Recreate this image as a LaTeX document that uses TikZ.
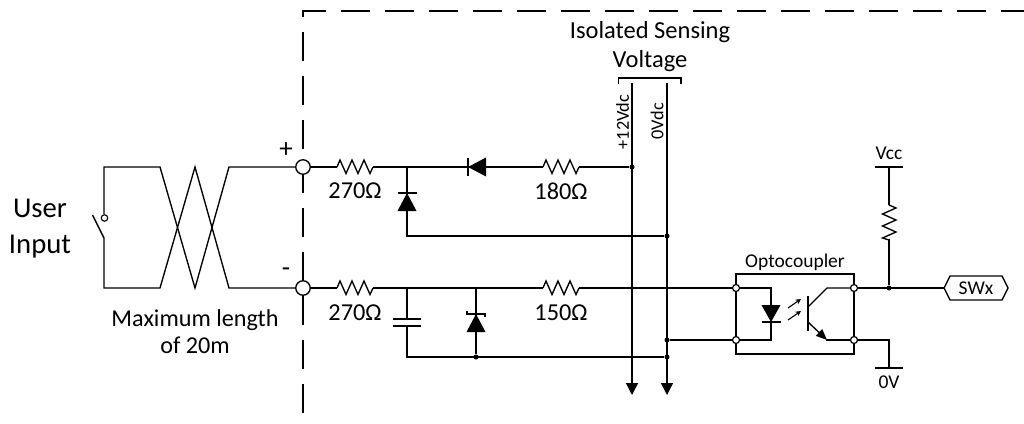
\documentclass[tikz,border=0pt]{standalone}
\usepackage{fontspec}
\setmainfont{Carlito}
\usetikzlibrary{arrows.meta}
\tikzset{
  x=1pt,y=-1pt,
  wire/.style={line width=1.35pt,line join=miter},
  thin wire/.style={line width=1.1pt},
  dot/.style={circle,fill=black,inner sep=0pt,minimum size=5pt},
  openterm/.style={circle,draw=black,fill=white,line width=1.35pt,inner sep=0pt,minimum size=14.5pt},
  smallpin/.style={circle,draw=black,fill=white,line width=1.2pt,inner sep=0pt,minimum size=7pt},
  lab/.style={inner sep=0pt,font=\fontsize{24.3}{29}\selectfont},
  midlab/.style={inner sep=0pt,align=center,font=\fontsize{24.2}{27}\selectfont},
  smalllab/.style={inner sep=0pt,font=\fontsize{19.5}{22}\selectfont},
  rotlab/.style={inner sep=0pt,rotate=90,anchor=west,font=\fontsize{18.3}{22}\selectfont},
  biglab/.style={inner sep=0pt,align=center,font=\fontsize{28.7}{36}\selectfont},
  signlab/.style={inner sep=0pt,font=\fontsize{27}{30}\selectfont},
  boundary/.style={line width=1.35pt,dash pattern=on 29pt off 15pt},
}
\newcommand{\hres}[2]{\draw[wire] (#1,#2) -- ++(3,-7) -- ++(6,13.5) -- ++(6,-13.5) -- ++(6,13.5) -- ++(6,-13.5) -- ++(6,13.5) -- ++(3,-6.5);}
\begin{document}
\begin{tikzpicture}
\useasboundingbox (0,0) rectangle (1024,423);
% boundary
\draw[boundary] (303,413) -- (303,11) -- (1024,11);
% named points
\coordinate (swT) at (104,214);
\coordinate (swB) at (104,238);
\node[openterm] (tp) at (303,167) {};
\node[openterm] (tn) at (303,288) {};
\coordinate (r1a) at (337,167); \coordinate (r1b) at (373,167);
\coordinate (r2a) at (337,288); \coordinate (r2b) at (373,288);
\coordinate (r3a) at (543,167); \coordinate (r3b) at (579,167);
\coordinate (r4a) at (543,288); \coordinate (r4b) at (579,288);
\coordinate (j1) at (407,167);
\coordinate (j2) at (407,288);
\node[dot] (d12) at (632,167) {};
\node[dot] (d0a) at (667,236) {};
\node[dot] (d0b) at (667,340) {};
\node[dot] (d0c) at (667,357) {};
\node[dot] (dz) at (476,357) {};
\node[dot] (dsw) at (889,288) {};
% cable
\draw[wire] (tp) -- (229,167) -- (195,288) -- (160,167) -- (104,167) -- (swT);
\draw[wire] (tn) -- (229,288) -- (195,167) -- (160,288) -- (104,288) -- (swB);
\draw[wire] (swB) -- (92.5,215);
\node[circle,draw=black,fill=white,line width=1.1pt,inner sep=0pt,minimum size=6.5pt] (swc) at (104.5,218) {};
% top rail
\draw[wire] (tp) -- (r1a); \hres{337}{167}
\draw[wire] (r1b) -- (r3a);
\hres{543}{167}
\draw[wire] (r3b) -- (d12);
\draw[wire] (468,158) -- (468,176);
\fill (468,167) -- (486,157.5) -- (486,176.5) -- cycle;
% top clamp diode
\draw[wire] (j1) -- (407,236) -- (d0a);
\draw[wire] (397.5,193) -- (416.5,193);
\fill (407,193) -- (416.5,211) -- (397.5,211) -- cycle;
% bottom rail
\draw[wire] (tn) -- (r2a); \hres{337}{288}
\draw[wire] (r2b) -- (r4a); \hres{543}{288}
\draw[wire] (r4b) -- (736,288);
% capacitor
\draw[wire] (j2) -- (407,319);
\draw[wire] (407,326) -- (407,357) -- (d0c);
\draw[wire] (393,319) -- (421,319);
\draw[wire] (393,326) -- (421,326);
% zener
\draw[wire] (476,288) -- (dz);
\draw[wire] (467,311) -- (467,314) -- (485,314) -- (485,317);
\fill (476,314) -- (485.5,332) -- (466.5,332) -- cycle;
% sensing rails
\draw[wire,-{Triangle[width=12pt,length=12pt]}] (632,83) -- (632,395);
\draw[wire,-{Triangle[width=12pt,length=12pt]}] (667,83) -- (667,395);
\draw[thin wire] (618.5,84) -- (618.5,78) -- (681,78) -- (681,84);
\draw[wire] (d0b) -- (736,340);
% optocoupler box
\draw[wire] (736,274) -- (854,274) -- (854,354) -- (736,354) -- cycle;
\draw[wire] (736,288) -- (771,288) -- (771,340) -- (736,340);
\draw[wire] (761.5,322) -- (780.5,322);
\fill (771,322) -- (761.5,305) -- (780.5,305) -- cycle;
\draw[thin wire,-{Stealth[length=5.5pt,width=5.5pt]}] (788,308) -- (801,299);
\draw[thin wire,-{Stealth[length=5.5pt,width=5.5pt]}] (788,320) -- (801,311);
\draw[wire] (808,296) -- (808,331);
\draw[wire] (808,307) -- (827,288) -- (854,288);
\draw[wire,-{Triangle[width=9pt,length=11pt]}] (808,322) -- (827,340);
\draw[wire] (826,340) -- (854,340);
\node[smallpin] (oa) at (736,288) {};
\node[smallpin] (ob) at (736,340) {};
\node[smallpin] (oc) at (854,288) {};
\node[smallpin] (od) at (854,340) {};
% output
\coordinate (hxl) at (944,288);
\draw[wire] (hxl) -- (950,276) -- (1002,276) -- (1008,288) -- (1002,300) -- (950,300) -- cycle;
\draw[wire] (oc) -- (hxl);
\draw[wire] (889,167) -- (889,205);
\draw[wire] (889,205) -- ++(7,3) -- ++(-13.5,6) -- ++(13.5,6) -- ++(-13.5,6) -- ++(13.5,6) -- ++(-13.5,6) -- ++(6.5,2);
\draw[wire] (889,239) -- (dsw);
\draw[wire] (875,167) -- (903,167);
\draw[wire] (od) -- (889,340) -- (889,368);
\draw[wire] (875,368) -- (903,368);
% texts
\node[biglab] (userl) at (40,229) {User\\Input};
\node[signlab] (plus) at (286,150) {+};
\node[signlab] (minus) at (286,272) {-};
\node[lab] (l1) at (355,191) {270Ω};
\node[lab] (l2) at (355,313) {270Ω};
\node[lab] (l3) at (561,191) {180Ω};
\node[lab] (l4) at (561,313) {150Ω};
\node[midlab] (maxl) at (195,332) {Maximum length\\of 20m};
\node[midlab,font=\fontsize{24.5}{29}\selectfont] (iso) at (650,47) {Isolated Sensing\\Voltage};
\node[rotlab] (v12) at (622.5,149.5) {+12Vdc};
\node[rotlab] (v0) at (657,139.5) {0Vdc};
\node[smalllab] (opt) at (795,262) {Optocoupler};
\node[smalllab] (vcc) at (889,153) {Vcc};
\node[smalllab] (gnd) at (889,382) {0V};
\node[smalllab] (swx) at (976,288) {SWx};
\end{tikzpicture}
\end{document}
